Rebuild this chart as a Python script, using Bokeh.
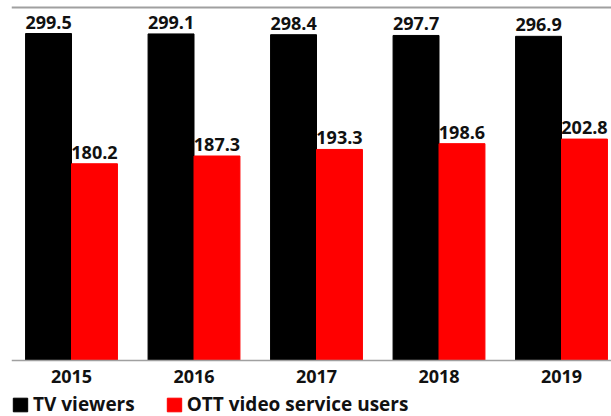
from bokeh.plotting import figure
from bokeh.models import ColumnDataSource, Legend, LegendItem, FixedTicker, LabelSet
from bokeh.core.properties import value
from bokeh.embed import file_html
from bokeh.resources import INLINE

years = ["2015", "2016", "2017", "2018", "2019"]
tv_viewers = [299.5, 299.1, 298.4, 297.7, 296.9]
ott_users = [180.2, 187.3, 193.3, 198.6, 202.8]

xs = list(range(len(years)))
bw = 0.375
tv_src = ColumnDataSource(dict(x=[i - bw / 2 for i in xs], top=tv_viewers,
                               lbl=[f"{v:.1f}" for v in tv_viewers]))
ott_src = ColumnDataSource(dict(x=[i + bw / 2 for i in xs], top=ott_users,
                                lbl=[f"{v:.1f}" for v in ott_users]))

# frame: left 11, right 611, top 5, bottom 416; baseline (y=0) at page y 360
x0 = -60 / 122.5
x1 = x0 + 600 / 122.5
k = 327 / 299.5            # px per unit
y0 = -56 / k
y1 = (360 - 5) / k
yrule = (360 - 7) / k
p = figure(width=611, height=416, output_backend="svg", toolbar_location=None,
           x_range=(x0, x1), y_range=(y0, y1),
           min_border_left=11, min_border_right=0, min_border_top=5, min_border_bottom=0)

r1 = p.vbar(x="x", top="top", width=bw, source=tv_src, color="#000000")
r2 = p.vbar(x="x", top="top", width=bw, source=ott_src, color="#ff0000")

for src in (tv_src, ott_src):
    p.add_layout(LabelSet(x="x", y="top", text="lbl", source=src, text_align="center",
                          text_baseline="alphabetic", y_offset=5,
                          text_font=value("Open Sans"), text_font_style="bold",
                          text_font_size="18px", text_color="#111111"))

p.yaxis.visible = False
p.xgrid.visible = False
p.ygrid.visible = False
p.outline_line_color = None
p.xaxis.fixed_location = 0
p.xaxis.ticker = FixedTicker(ticks=xs)
p.xaxis.major_label_overrides = {i: y for i, y in enumerate(years)}
p.xaxis.major_tick_line_color = None
p.xaxis.minor_tick_line_color = None
p.xaxis.axis_line_color = "#a0a0a0"
p.xaxis.axis_line_width = 1.5
p.xaxis.major_label_text_font = "Open Sans"
p.xaxis.major_label_text_font_style = "bold"
p.xaxis.major_label_text_font_size = "18px"
p.xaxis.major_label_text_color = "#111111"
p.xaxis.major_label_standoff = 3

# top gray rule
p.line(x=[x0, x1], y=[yrule, yrule], line_color="#a0a0a0", line_width=2)

legend = Legend(items=[LegendItem(label="TV viewers", renderers=[r1]),
                       LegendItem(label="OTT video service users", renderers=[r2])],
                orientation="horizontal", location=(0, -1),
                label_text_font="Open Sans", label_text_font_style="bold",
                label_text_font_size="19px", label_text_color="#111111",
                label_height=17,
                glyph_width=18, glyph_height=17, spacing=30, padding=0, margin=0,
                label_standoff=4, border_line_color=None, background_fill_alpha=0)
p.add_layout(legend, "center")

open("out.html", "w").write(file_html(p, INLINE))
